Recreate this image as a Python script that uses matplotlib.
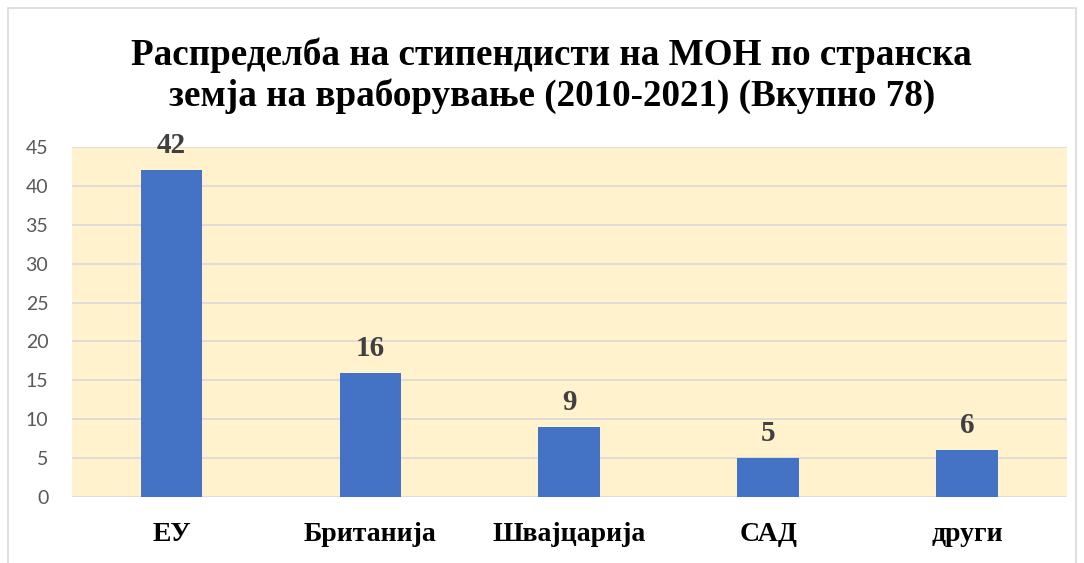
import matplotlib
matplotlib.use("Agg")
import matplotlib.pyplot as plt
from matplotlib.patches import Rectangle

# Data
categories = ["ЕУ", "Британија", "Швајцарија", "САД", "други"]
values = [42, 16, 9, 5, 6]
yticks = [0, 5, 10, 15, 20, 25, 30, 35, 40, 45]

title = ("Распределба на стипендисти на МОН по странска\n"
         "земја на враборување (2010-2021) (Вкупно 78)")

fig = plt.figure(figsize=(10.84, 5.63), dpi=100)
ax = fig.add_axes([0.0664, 0.1172, 0.9176, 0.6218])

ax.set_facecolor("#FFF2CC")
ax.bar(range(len(categories)), values, width=0.31, color="#4472C4", zorder=3)
ax.set_xlim(-0.5, len(categories) - 0.5)
ax.set_ylim(0, 45)
ax.set_yticks(yticks)
ax.grid(axis="y", color="#D9D9D9", linewidth=1.2, zorder=0)
for s in ax.spines.values():
    s.set_visible(False)
ax.tick_params(axis="both", length=0)
ax.tick_params(axis="y", labelsize=14, labelcolor="#595959", pad=17)
for lbl in ax.get_yticklabels():
    lbl.set_family("Lato")

ax.set_xticks(range(len(categories)))
ax.set_xticklabels(categories, family="Liberation Serif", fontweight="bold",
                   fontsize=20, color="black")
ax.tick_params(axis="x", pad=18)

for i, v in enumerate(values):
    ax.text(i, v + 1.4, str(v), ha="center", va="bottom", family="Liberation Serif",
            fontweight="bold", fontsize=21, color="#404040")

fig.text(0.509, 0.866, title, ha="center", va="center", family="Liberation Serif",
         fontweight="bold", fontsize=26.7, linespacing=1.2)

# chart border
fig.patches.append(Rectangle((0.0075, -0.01), 0.985, 0.995, transform=fig.transFigure,
                             fill=False, edgecolor="#D9D9D9", linewidth=1.2))

fig.savefig("out.png", dpi=100)
